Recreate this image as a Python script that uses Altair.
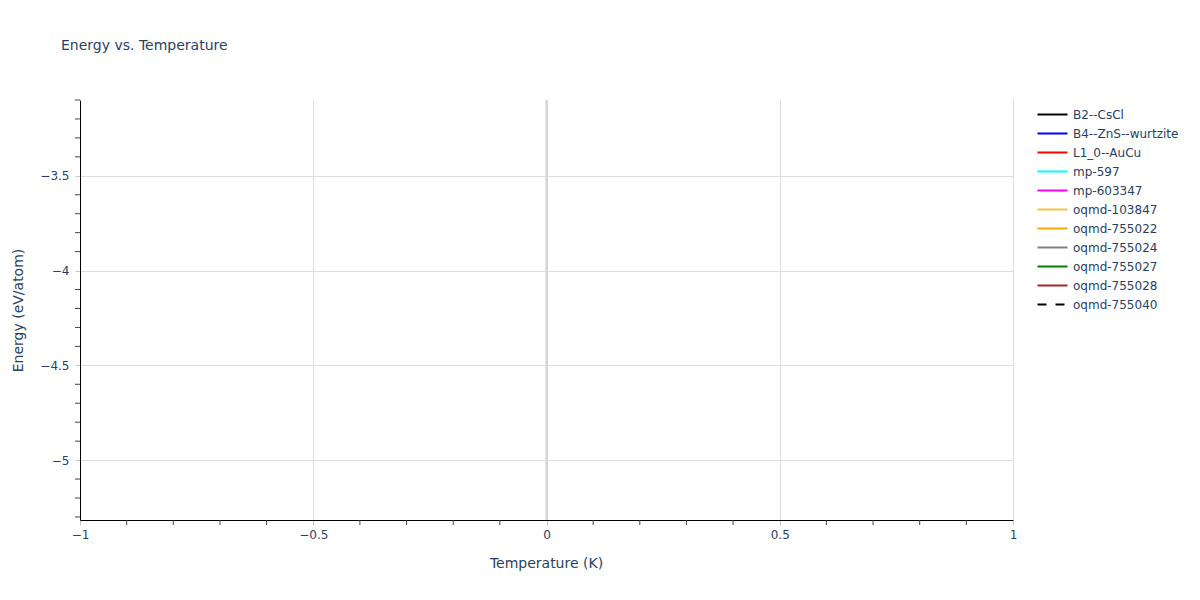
import altair as alt
import pandas as pd

# ---- data ----
names = ["B2--CsCl", "B4--ZnS--wurtzite", "L1_0--AuCu", "mp-597", "mp-603347",
         "oqmd-103847", "oqmd-755022", "oqmd-755024", "oqmd-755027", "oqmd-755028",
         "oqmd-755040"]
colors = ["black", "blue", "red", "cyan", "magenta", "#f0c43c", "orange",
          "gray", "green", "brown", "black"]
dashes = [[1, 0]] * 10 + [[9, 9]]
temperatures = [0] * 11
# each structure has a single point at T = 0 (no visible line segment)
energies = [-4.16, -3.21, -4.47, -5.21, -5.19, -4.62, -4.05, -3.74, -4.88, -3.95, -4.31]

y_major = [-5.0, -4.5, -4.0, -3.5]
x_major = [-1.0, -0.5, 0.0, 0.5, 1.0]
y_minor = [-5.3, -5.2, -5.1, -4.9, -4.8, -4.7, -4.6, -4.4, -4.3, -4.2, -4.1,
           -3.9, -3.8, -3.7, -3.6, -3.4, -3.3, -3.2, -3.1]
x_minor = [-0.9, -0.8, -0.7, -0.6, -0.4, -0.3, -0.2, -0.1,
           0.1, 0.2, 0.3, 0.4, 0.6, 0.7, 0.8, 0.9]

df = pd.DataFrame({"name": names, "T": temperatures, "E": energies})

FONT = "DejaVu Sans"
TXT = "#2a3f5f"
GRID = "#dedede"

xscale = alt.Scale(domain=[-1, 1], nice=False, zero=False)
yscale = alt.Scale(domain=[-5.316, -3.1], nice=False, zero=False)

xaxis = alt.Axis(values=x_major, grid=True, gridColor=GRID, domainColor="black",
                 tickColor="#c8c8c8", tickSize=5, labelPadding=4, labelFlush=False,
                 format="~g", title="Temperature (K)", titleX=466, titleY=43,
                 titleBaseline="middle", titleFontWeight="normal")
yaxis = alt.Axis(values=y_major, grid=True, gridColor=GRID, domainColor="black",
                 tickColor="#c8c8c8", tickSize=5, labelPadding=6, format="~g",
                 title="Energy (eV/atom)", titleX=-62, titleY=210, titleAngle=-90,
                 titleBaseline="middle", titleAlign="center", titleFontWeight="normal")

legend_opts = dict(title=None, orient="none", legendX=964, legendY=6,
                   symbolType="M-2,0H2", symbolSize=225, symbolStrokeWidth=2,
                   labelFont=FONT, labelFontSize=12, labelColor=TXT,
                   rowPadding=4, labelOffset=12)

zero = alt.Chart(pd.DataFrame({"z": [0]})).mark_rule(color="#d4d4d4", strokeWidth=2).encode(
    x=alt.X("z:Q", scale=xscale, axis=xaxis)
)

lines = alt.Chart(df).mark_line(strokeWidth=2).encode(
    x=alt.X("T:Q", scale=xscale, axis=xaxis),
    y=alt.Y("E:Q", scale=yscale, axis=yaxis),
    color=alt.Color("name:N", scale=alt.Scale(domain=names, range=colors),
                    legend=alt.Legend(**legend_opts)),
    strokeDash=alt.StrokeDash("name:N", scale=alt.Scale(domain=names, range=dashes),
                              legend=alt.Legend(**legend_opts)),
)

yminor = alt.Chart(pd.DataFrame({"v": y_minor})).mark_rule(color="#444", strokeWidth=1).encode(
    y=alt.Y("v:Q", scale=yscale, axis=yaxis), x=alt.value(-5), x2=alt.value(0)
)
xminor = alt.Chart(pd.DataFrame({"v": x_minor})).mark_rule(color="#444", strokeWidth=1).encode(
    x=alt.X("v:Q", scale=xscale, axis=xaxis), y=alt.value(420), y2=alt.value(425)
)

chart = alt.layer(zero, lines, yminor, xminor).properties(
    width=933, height=420,
    autosize=alt.AutoSizeParams(type="none"),
    padding={"left": 72, "top": 92, "right": 179, "bottom": 72},
    title=alt.TitleParams("Energy vs. Temperature", anchor="start", frame="group",
                          dx=-19, offset=46, font=FONT, fontSize=14,
                          fontWeight="normal", color=TXT),
).configure_view(stroke=None).configure_axis(
    labelFont=FONT, labelFontSize=12, labelColor=TXT,
    titleFont=FONT, titleFontSize=14, titleColor=TXT, domainWidth=1,
)

chart.save("out.html", embed_options={"renderer": "svg", "actions": False})
